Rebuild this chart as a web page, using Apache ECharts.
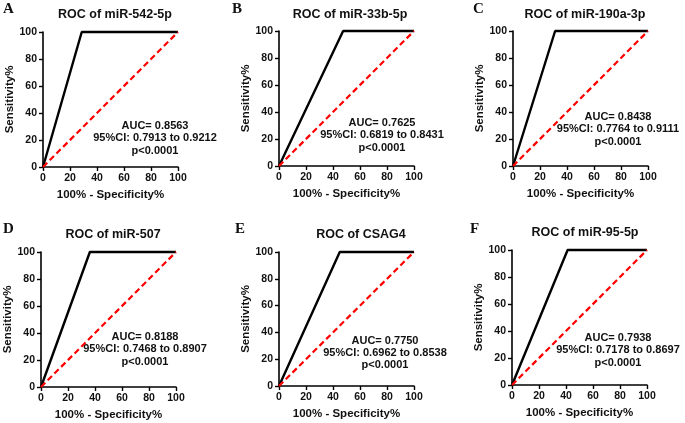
<!DOCTYPE html>
<html><head><meta charset="utf-8">
<script src="https://cdn.jsdelivr.net/npm/echarts@6/dist/echarts.min.js"></script>
<style>html,body{margin:0;padding:0;background:#fff}#c{width:685px;height:423px}</style>
</head><body><div id="c"></div>
<script>
// ---- data ----
const panelLetters = ['A','B','C','D','E','F'];
const markers = ['miR-542-5p','miR-33b-5p','miR-190a-3p','miR-507','CSAG4','miR-95-5p'];
const fpr = [28.7, 47.5, 31.2, 36.2, 45.0, 41.2];       // corner of ROC curve (100% - Specificity%)
const rocY = [0, 100, 100];                              // sensitivity at the curve's points
const auc = ['0.8563','0.7625','0.8438','0.8188','0.7750','0.7938'];
const ciLow = ['0.7913','0.6819','0.7764','0.7468','0.6962','0.7178'];
const ciHigh = ['0.9212','0.8431','0.9111','0.8907','0.8538','0.8697'];
const pText = ['p<0.0001','p<0.0001','p<0.0001','p<0.0001','p<0.0001','p<0.0001'];
const chanceX = [0, 100];
const chanceY = [0, 100];
const tickMin = 0, tickMax = 100, tickStep = 20;
const xName = '100% - Specificity%';
const yName = 'Sensitivity%';

// ---- layout (pixels) ----
const grids = [
  {left:43, top:32, width:135, height:135},
  {left:279, top:31, width:135, height:135},
  {left:513, top:31, width:135, height:135},
  {left:41, top:252, width:135, height:135},
  {left:279, top:252, width:135, height:134},
  {left:512, top:250, width:135, height:135}
];
const titlePos = [[110,3],[345,3],[580,3],[108,223],[356,223],[580,221]];
const letterPos = [[3,2],[232,2],[473,2],[3,222],[235,222],[470,222]];
const notePos = [[155,120],[382,117],[618,111],[145,331],[385,334.5],[618,332]];

const font = 'Liberation Sans, Arial, sans-serif';
const option = {
  animation:false,
  backgroundColor:'#fff',
  title:[], grid:[], xAxis:[], yAxis:[], series:[], graphic:[]
};
for (let i=0;i<6;i++){
  option.grid.push(Object.assign({containLabel:false}, grids[i]));
  option.title.push({text:'ROC of '+markers[i], left:titlePos[i][0], top:titlePos[i][1], textAlign:'center',
    textStyle:{fontFamily:font, fontWeight:'bold', fontSize:12.5, color:'#111'}});
  const axisCommon = {
    type:'value', min:tickMin, max:tickMax, interval:tickStep, gridIndex:i,
    splitLine:{show:false},
    axisLine:{show:true, onZero:false, lineStyle:{color:'#000', width:1.6}},
    axisTick:{show:true, length:4, lineStyle:{color:'#000', width:1.4}},
    axisLabel:{fontFamily:font, fontWeight:'bold', fontSize:10.5, color:'#111', margin:6},
    nameLocation:'middle',
    nameTextStyle:{fontFamily:font, fontWeight:'bold', fontSize:11.5, color:'#111'}
  };
  option.xAxis.push(Object.assign({}, axisCommon, {name:xName, nameGap:22}));
  option.yAxis.push(Object.assign({}, axisCommon, {name:yName, nameGap:26, nameRotate:90}));
  const rocX = [0, fpr[i], 100];
  option.series.push({
    type:'line', xAxisIndex:i, yAxisIndex:i, symbol:'none', clip:false, z:3,
    data: rocX.map((x,k)=>[x, rocY[k]]),
    lineStyle:{color:'#000', width:2.4}
  });
  option.series.push({
    type:'line', xAxisIndex:i, yAxisIndex:i, symbol:'none', clip:false, z:4,
    data: chanceX.map((x,k)=>[x, chanceY[k]]),
    lineStyle:{color:'#f00', width:2.2, type:[6,3.5]}
  });
  option.graphic.push({type:'text', left:letterPos[i][0], top:letterPos[i][1],
    style:{text:panelLetters[i], font:'bold 15px "Liberation Serif", "Times New Roman", serif', fill:'#111'}});
  option.graphic.push({type:'text', x:notePos[i][0], y:notePos[i][1],
    style:{text:'AUC= '+auc[i]+'\n95%CI: '+ciLow[i]+' to '+ciHigh[i]+'\n'+pText[i],
      font:'bold 11px '+font, fill:'#111', align:'center', verticalAlign:'top', lineHeight:12.3}});
}
const chart = echarts.init(document.getElementById('c'), null, {renderer:'canvas'});
chart.setOption(option);
</script>
</body></html>
